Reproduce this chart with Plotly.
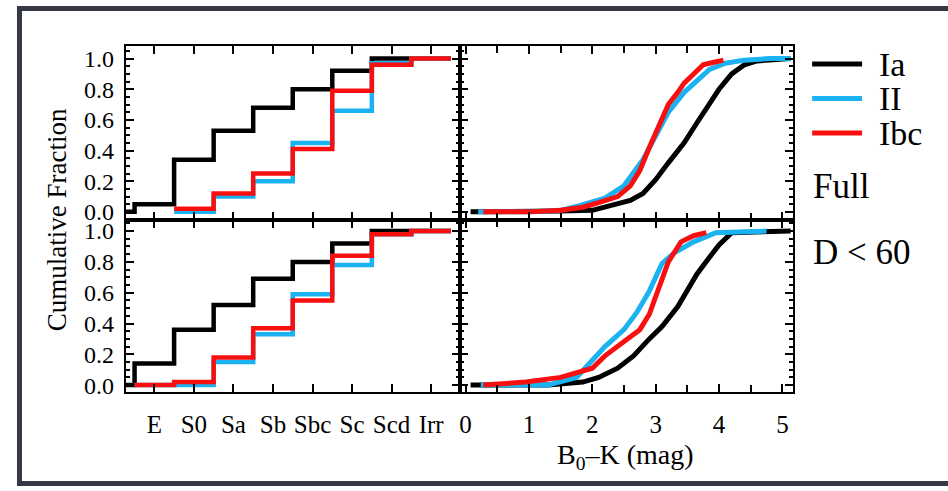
import plotly.graph_objects as go

# ---------------- data ----------------
# morphology categories (position 0 is the blank bin before E)
morph_types = ["", "E", "S0", "Sa", "Sb", "Sbc", "Sc", "Scd", "Irr"]

# cumulative fraction per morphology bin (None = not drawn)
full_Ia = [0.00, 0.05, 0.34, 0.53, 0.68, 0.80, 0.92, 1.00, 1.00]
full_II = [None, None, 0.00, 0.10, 0.20, 0.45, 0.66, 0.97, 1.00]
full_Ibc = [None, None, 0.02, 0.12, 0.25, 0.41, 0.79, 0.96, 1.00]

d60_Ia = [0.00, 0.14, 0.36, 0.52, 0.69, 0.80, 0.92, 1.00, 1.00]
d60_II = [None, 0.00, 0.00, 0.15, 0.33, 0.59, 0.78, 0.98, 1.00]
d60_Ibc = [None, 0.00, 0.02, 0.18, 0.37, 0.55, 0.84, 0.98, 1.00]

# B0-K colour cumulative distributions
full_Ia_col = [0.08, 1.0, 1.5, 2.0, 2.3, 2.6, 2.8, 3.0, 3.2, 3.45, 3.65, 3.85, 4.0, 4.2, 4.4, 4.6, 5.13]
full_Ia_cf = [0.0, 0.0, 0.005, 0.01, 0.04, 0.075, 0.12, 0.21, 0.32, 0.45, 0.58, 0.71, 0.80, 0.90, 0.96, 0.985, 1.0]
full_II_col = [0.2, 1.0, 1.5, 1.8, 2.2, 2.5, 2.8, 3.0, 3.2, 3.45, 3.65, 3.85, 4.1, 4.4, 4.8, 5.13]
full_II_cf = [0.0, 0.0, 0.01, 0.04, 0.09, 0.17, 0.34, 0.49, 0.65, 0.78, 0.86, 0.93, 0.97, 0.99, 1.0, 1.0]
full_Ibc_col = [0.28, 1.0, 1.5, 1.85, 2.1, 2.4, 2.6, 2.75, 2.9, 3.05, 3.2, 3.35, 3.45, 3.6, 3.75, 3.85, 4.07]
full_Ibc_cf = [0.0, 0.0, 0.01, 0.03, 0.06, 0.10, 0.17, 0.27, 0.42, 0.57, 0.70, 0.78, 0.84, 0.90, 0.96, 0.97, 0.99]

d60_Ia_col = [0.08, 1.3, 1.85, 2.1, 2.4, 2.65, 2.9, 3.1, 3.35, 3.5, 3.65, 3.85, 4.0, 4.2, 5.13]
d60_Ia_cf = [0.0, 0.0, 0.02, 0.05, 0.11, 0.19, 0.30, 0.38, 0.51, 0.62, 0.72, 0.83, 0.91, 0.99, 1.0]
d60_II_col = [0.24, 1.3, 1.75, 1.95, 2.2, 2.5, 2.7, 2.9, 3.1, 3.3, 3.6, 3.95, 4.75]
d60_II_cf = [0.0, 0.0, 0.05, 0.14, 0.25, 0.36, 0.47, 0.61, 0.79, 0.86, 0.93, 0.99, 1.0]
d60_Ibc_col = [0.28, 0.95, 1.5, 2.0, 2.2, 2.5, 2.75, 2.9, 3.05, 3.2, 3.4, 3.6, 3.8]
d60_Ibc_cf = [0.0, 0.02, 0.05, 0.11, 0.19, 0.28, 0.36, 0.46, 0.62, 0.80, 0.93, 0.97, 0.99]

series_names = ["Ia", "II", "Ibc"]
colors = {"Ia": "#000000", "II": "#1ab2f0", "Ibc": "#f81010"}
y_ticks = [0.0, 0.2, 0.4, 0.6, 0.8, 1.0]
color_ticks = [0, 1, 2, 3, 4, 5]

# ---------------- figure ----------------
W, H = 948, 491
FONT = "Liberation Serif, Times New Roman, serif"
fig = go.Figure()


def step_xy(vals):
    xs, ys = [], []
    last = None
    for k, v in enumerate(vals):
        if v is None:
            continue
        xs.append(k - 0.5)
        ys.append(v)
        last = (k, v)
    xs.append(last[0] + 0.5)
    ys.append(last[1])
    return xs, ys


left_sets = [("x", "y", {"Ia": full_Ia, "II": full_II, "Ibc": full_Ibc}),
             ("x3", "y3", {"Ia": d60_Ia, "II": d60_II, "Ibc": d60_Ibc})]
for xa, ya, d in left_sets:
    for nm in series_names:
        xs, ys = step_xy(d[nm])
        fig.add_trace(go.Scatter(x=xs, y=ys, mode="lines", line_shape="hv",
                                 line=dict(color=colors[nm], width=4.5),
                                 xaxis=xa, yaxis=ya, showlegend=False, name=nm))

right_sets = [("x2", "y2", {"Ia": (full_Ia_col, full_Ia_cf), "II": (full_II_col, full_II_cf),
                            "Ibc": (full_Ibc_col, full_Ibc_cf)}),
              ("x4", "y4", {"Ia": (d60_Ia_col, d60_Ia_cf), "II": (d60_II_col, d60_II_cf),
                            "Ibc": (d60_Ibc_col, d60_Ibc_cf)})]
for xa, ya, d in right_sets:
    for nm in series_names:
        xs, ys = d[nm]
        fig.add_trace(go.Scatter(x=xs, y=ys, mode="lines",
                                 line=dict(color=colors[nm], width=5),
                                 xaxis=xa, yaxis=ya, showlegend=False, name=nm))

# domains (pixel based)
L, M, R = 125 / W, 459.5 / W, 793 / W
T, MID, B = 1 - 46 / H, 1 - 221.7 / H, 1 - 396.7 / H

ytickfont = dict(family=FONT, size=24, color="black")
xtickfont = dict(family=FONT, size=25, color="black")
common = dict(showline=True, linecolor="black", linewidth=2, mirror="ticks",
              ticks="inside", tickcolor="black", tickwidth=2, ticklen=8,
              showgrid=False, zeroline=False)
ymin = dict(dtick=0.05, ticklen=4, tickwidth=1.5, tickcolor="black", ticks="inside", showgrid=False)
xmin_c = dict(dtick=0.5, ticklen=7, tickwidth=1.5, tickcolor="black", ticks="inside", showgrid=False)

cat_pos = list(range(1, len(morph_types)))
cat_lab = morph_types[1:]

fig.update_layout(
    width=W, height=H, margin=dict(l=0, r=0, t=0, b=0),
    paper_bgcolor="white", plot_bgcolor="white", showlegend=False,
    font=dict(family=FONT, color="black"),
    xaxis=dict(domain=[L, M], range=[0.28, 8.73], anchor="y", tickvals=cat_pos,
               showticklabels=False, tickfont=xtickfont, **common),
    yaxis=dict(domain=[MID, T], range=[-0.05, 1.08], anchor="x", tickvals=y_ticks,
               tickformat=".1f", ticklabelstandoff=5, minor=ymin, tickfont=ytickfont, **common),
    xaxis2=dict(domain=[M, R], range=[-0.087, 5.17], anchor="y2", tickvals=color_ticks,
                showticklabels=False, minor=xmin_c, tickfont=xtickfont, **common),
    yaxis2=dict(domain=[MID, T], range=[-0.05, 1.08], anchor="x2", tickvals=y_ticks,
                showticklabels=False, minor=ymin, tickfont=ytickfont, **common),
    xaxis3=dict(domain=[L, M], range=[0.28, 8.73], anchor="y3", tickvals=cat_pos,
                ticktext=cat_lab, ticklabelstandoff=9, tickfont=xtickfont, **common),
    yaxis3=dict(domain=[B, MID], range=[-0.045, 1.075], anchor="x3", tickvals=y_ticks,
                tickformat=".1f", ticklabelstandoff=5, minor=ymin, tickfont=ytickfont, **common),
    xaxis4=dict(domain=[M, R], range=[-0.087, 5.17], anchor="y4", tickvals=color_ticks,
                ticklabelstandoff=9, minor=xmin_c, tickfont=xtickfont, **common),
    yaxis4=dict(domain=[B, MID], range=[-0.045, 1.075], anchor="x4", tickvals=y_ticks,
                showticklabels=False, minor=ymin, tickfont=ytickfont, **common),
)

shapes = []
annotations = []
# outer dark frame
shapes.append(dict(type="rect", xref="paper", yref="paper",
                   x0=18.5 / W, x1=1.02, y0=1 - 489.5 / H, y1=1 - 7.5 / H,
                   line=dict(color="#363944", width=5), fillcolor="rgba(0,0,0,0)", layer="above"))

# legend (lines + labels)
leg_y = [64, 99, 134]
for nm, yy in zip(series_names, leg_y):
    shapes.append(dict(type="line", xref="paper", yref="paper",
                       x0=812 / W, x1=862 / W, y0=1 - yy / H, y1=1 - yy / H,
                       line=dict(color=colors[nm], width=5)))
    annotations.append(dict(text=nm, xref="paper", yref="paper", x=877 / W, y=1 - yy / H,
                            xanchor="left", yanchor="middle", showarrow=False,
                            font=dict(family=FONT, size=34, color="black")))

annotations.append(dict(text="Full", xref="paper", yref="paper", x=811 / W, y=1 - 188 / H,
                        xanchor="left", yanchor="middle", showarrow=False,
                        font=dict(family=FONT, size=35, color="black")))
annotations.append(dict(text="D &lt; 60", xref="paper", yref="paper", x=811 / W, y=1 - 255 / H,
                        xanchor="left", yanchor="middle", showarrow=False,
                        font=dict(family=FONT, size=35, color="black")))
annotations.append(dict(text="Cumulative Fraction", xref="paper", yref="paper", x=56 / W,
                        y=1 - 221.5 / H, textangle=-90, xanchor="center", yanchor="middle",
                        showarrow=False, font=dict(family=FONT, size=27, color="black")))
annotations.append(dict(text="B<sub>0</sub>–K (mag)", xref="paper", yref="paper", x=625 / W,
                        y=1 - 462 / H, xanchor="center", yanchor="middle", showarrow=False,
                        font=dict(family=FONT, size=28, color="black")))

fig.update_layout(shapes=shapes, annotations=annotations)
fig.write_html("out.html")
